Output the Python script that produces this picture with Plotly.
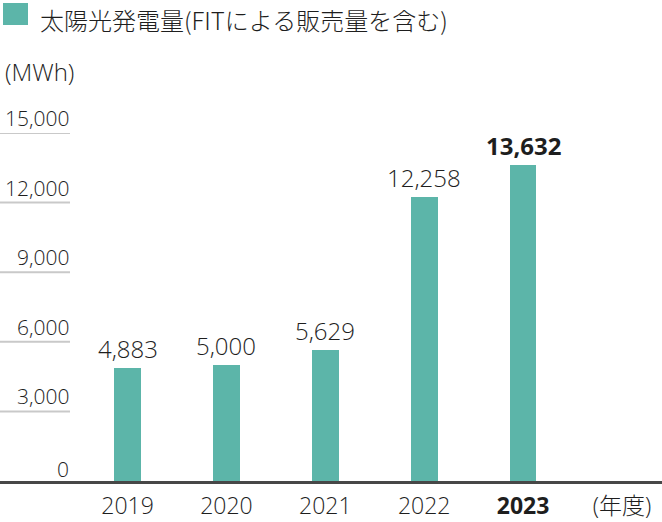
import plotly.graph_objects as go

# ---- data ----
years = ["2019", "2020", "2021", "2022", "2023"]
values = [4883, 5000, 5629, 12258, 13632]
value_labels = ["4,883", "5,000", "5,629", "12,258", "13,632"]
y_ticks = [0, 3000, 6000, 9000, 12000, 15000]
y_tick_labels = ["0", "3,000", "6,000", "9,000", "12,000", "15,000"]
x_unit_label = "(年度)"
y_unit_label = "(MWh)"
series_name = "太陽光発電量(FITによる販売量を含む)"

W, H = 662, 522
PLOT_TOP, PLOT_BOTTOM = 133, 481
BAR_COLOR = "#5cb5a9"
TEXT_COLOR = "#1e1e1e"
FONT = "Open Sans, Noto Sans CJK JP, sans-serif"
CJK_FONT = "Noto Sans CJK JP, Open Sans, sans-serif"
LIGHT = 300


def py(p):
    """pixel y -> paper y"""
    return (PLOT_BOTTOM - p) / (PLOT_BOTTOM - PLOT_TOP)


def px(p):
    return p / W


xs = list(range(len(years)))
fig = go.Figure()
fig.add_trace(go.Bar(
    x=xs, y=values, width=0.27, marker=dict(color=BAR_COLOR, line=dict(width=0)),
    hoverinfo="skip", showlegend=False,
))

# value labels above bars
for i, (v, lab) in enumerate(zip(values, value_labels)):
    bold = years[i] == "2023"
    fig.add_annotation(
        x=i, y=v, xref="x", yref="y", text=lab,
        showarrow=False, yanchor="bottom", xanchor="center", yshift=1,
        font=dict(family=FONT, size=24, color=TEXT_COLOR, weight=700 if bold else LIGHT),
    )

# y tick labels with short grid lines
for t, lab in zip(y_ticks, y_tick_labels):
    fig.add_annotation(
        x=px(71), y=t, xref="paper", yref="y", text=lab, showarrow=False,
        xanchor="right", yanchor="bottom", yshift=-4 if t == 0 else -1,
        font=dict(family=FONT, size=21, color=TEXT_COLOR, weight=LIGHT),
    )
    if t > 0:
        fig.add_shape(type="line", xref="paper", yref="y", x0=0, x1=px(70), y0=t, y1=t,
                      line=dict(color="#c9c9c9", width=2))

# legend marker + title
fig.add_shape(type="rect", xref="paper", yref="paper", x0=px(3), x1=px(28), y0=py(25), y1=py(3),
              fillcolor=BAR_COLOR, line=dict(width=0))
fig.add_annotation(x=px(38), y=py(0.5), xref="paper", yref="paper", text=series_name,
                   showarrow=False, xanchor="left", yanchor="top",
                   font=dict(family=CJK_FONT, size=24, color=TEXT_COLOR, weight=LIGHT))
fig.add_annotation(x=px(3), y=py(71), xref="paper", yref="paper", text=y_unit_label,
                   showarrow=False, xanchor="left", yanchor="middle",
                   font=dict(family=FONT, size=24, color=TEXT_COLOR, weight=LIGHT))

tick_vals = xs + [len(years)]
tick_text = [("<b>%s</b>" % y if y == "2023" else y) for y in years] + [x_unit_label]

x0 = -127.5 / 98.9
fig.update_layout(
    width=W, height=H,
    margin=dict(l=0, r=0, t=PLOT_TOP, b=H - PLOT_BOTTOM, pad=0, autoexpand=False),
    paper_bgcolor="white", plot_bgcolor="white",
    xaxis=dict(range=[x0, x0 + W / 98.9], tickvals=tick_vals, ticktext=tick_text,
               showgrid=False, zeroline=False, showline=True, linecolor="#474747", linewidth=3,
               ticks="", ticklabelstandoff=2, automargin=False,
               tickfont=dict(family=FONT, size=23, color=TEXT_COLOR, weight=LIGHT),
               fixedrange=True),
    yaxis=dict(range=[0, 15000], showgrid=False, zeroline=False, showticklabels=False,
               automargin=False, fixedrange=True),
    bargap=0,
)

fig.write_html("out.html")
